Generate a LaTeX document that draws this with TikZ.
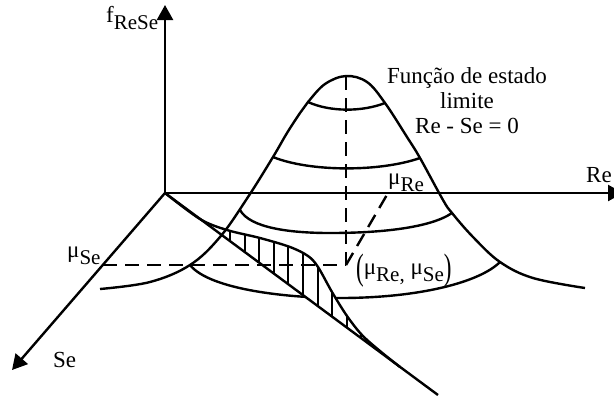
\documentclass[tikz,border=0pt]{standalone}
\usepackage{fontspec}
\setmainfont{Liberation Serif}
\usepackage{graphicx}
\usetikzlibrary{arrows.meta}
\newcommand{\lowsub}[1]{\raisebox{-3.5pt}{\fontsize{10.5}{10.5}\selectfont #1}}

\begin{document}
\begin{tikzpicture}[x=0.5pt, y=-0.5pt, line width=1.2pt, line join=round,
    lbl/.style={inner sep=0pt, anchor=base west, font=\fontsize{11.5}{12}\selectfont},
    axis/.style={-{Triangle[length=7.5pt, width=8pt]}},
    guide/.style={dash pattern=on 7pt off 4pt}]
  \useasboundingbox (0,0) rectangle (614,398);

  \coordinate (O) at (165,193);
  \coordinate (fTip) at (165,5);
  \coordinate (ReTip) at (623,193);
  \coordinate (SeTip) at (12,370);
  \coordinate (peak) at (346,76);
  \coordinate (muSeMark) at (103,265);
  \coordinate (mean) at (346,265);
  \coordinate (muReMark) at (388,193);
  \coordinate (lineEnd) at (438,395);

  % base contour, partly hidden by the hatched region
  \draw (190,265) .. controls (210,290) and (290,298) .. (340,298) .. controls (420,298) and (480,282) .. (500,262);

  \begin{scope}
    \clip plot[smooth, tension=0.55] coordinates {(165,193) (200,219) (227,230) (260,238) (290,247) (308,256) (318,267) (332,292) (347,316) (362,335) (380,351) (400,367)} -- cycle;
    \fill[white] (0,0) rectangle (614,398);
    \foreach \x in {230,244.6,...,392}
      \draw[line width=1pt] (\x,180) -- (\x,380);
  \end{scope}
  \draw plot[smooth, tension=0.55] coordinates {(165,193) (200,219) (227,230) (260,238) (290,247) (308,256) (318,267) (332,292) (347,316) (362,335) (380,351) (400,367)};
  \draw (O) -- (lineEnd);

  % bell and its contours
  \draw plot[smooth, tension=0.6] coordinates {(100,289) (150,282) (190,265) (220,237) (248,197) (273,157) (287,133) (300,113) (308,102) (325,84) (346,76) (367,82) (385,103) (407,137) (420,158) (443,200) (452,213) (473,237) (500,262) (533,278) (585,288)};
  \draw (308,102) .. controls (330,112) and (362,112) .. (385,103);
  \draw (273,157) .. controls (310,172) and (380,172) .. (420,158);
  \draw (240,210) .. controls (250,228) and (290,233) .. (330,233) .. controls (380,233) and (430,228) .. (452,213);

  \draw[axis] (O) -- (fTip);
  \draw[axis] (O) -- (ReTip);
  \draw[axis] (O) -- (SeTip);

  \draw[guide] (muSeMark) -- (mean);
  \draw[guide] (peak) -- (mean);
  \draw[guide] (mean) -- (muReMark);

  \node[lbl] (fLbl) at (105,22) {f\lowsub{ReSe}};
  \node[lbl] (ReLbl) at (585,182) {Re};
  \node[lbl] (SeLbl) at (52,367) {Se};
  \node[lbl] (muSeLbl) at (66,257) {μ\lowsub{Se}};
  \node[lbl] (muReLbl) at (387,184) {μ\lowsub{Re}};
  \node[lbl] (meanLbl) at (355,274) {\raisebox{-2.5pt}{\scalebox{1}[1.6]{(}}μ\lowsub{Re,} μ\lowsub{Se}\raisebox{-2.5pt}{\scalebox{1}[1.6]{)}}};
  \node[inner sep=0pt, align=center, font=\fontsize{11.5}{12.5}\selectfont] (limitLbl) at (467,101) {Função de estado\\limite\\Re - Se = 0};
\end{tikzpicture}
\end{document}
